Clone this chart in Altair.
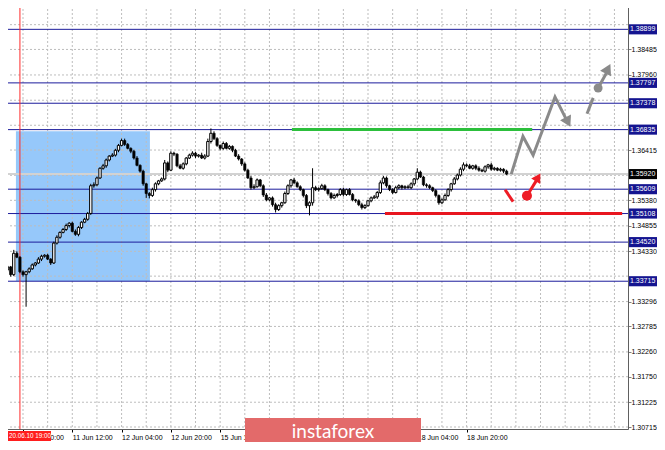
import json
import altair as alt
import pandas as pd

# ---------------- values ----------------
# H1 candles; prices in points (1e-5) above 1.30000
BASE = 1.30000
PT = 1e-5
first_open_pts = 3970
close_pts = [
    4010, 3950, 4010, 3850, 4290, 4210, 3910, 3850, 3910, 3970,
    4050, 4090, 4170, 4230, 4250, 4170, 4090, 4500, 4620, 4720,
    4780, 4860, 4910, 4740, 4680, 4820, 4930, 4990, 5110, 5680,
    5700, 5840, 6040, 6090, 6210, 6290, 6310, 6410, 6510, 6610,
    6530, 6450, 6390, 6250, 6100, 5980, 5720, 5520, 5480, 5600,
    5720, 5780, 5820, 6150, 6000, 6350, 6330, 6090, 6040, 6130,
    6250, 6310, 6350, 6290, 6310, 6250, 6290, 6590, 6760, 6650,
    6510, 6450, 6550, 6450, 6490, 6410, 6290, 6230, 6130, 6000,
    5840, 5640, 5660, 5800, 5680, 5490, 5390, 5430, 5290, 5190,
    5270, 5330, 5520, 5680, 5800, 5740, 5660, 5600, 5480, 5270,
    5330, 5640, 5600, 5620, 5680, 5600, 5520, 5430, 5480, 5500,
    5600, 5500, 5600, 5500, 5390, 5370, 5290, 5230, 5270, 5370,
    5430, 5450, 5540, 5740, 5840, 5680, 5600, 5540, 5640, 5680,
    5640, 5660, 5640, 5720, 5820, 5960, 5860, 5700, 5680, 5640,
    5580, 5480, 5330, 5390, 5480, 5600, 5720, 5820, 5900, 6020,
    6110, 6090, 6040, 6090, 6040, 6000, 5980, 6070, 6110, 6020,
    6040, 6000, 6020, 5980, 5920,
]
upper_wick_pts = [
    30, 40, 30, 20, 70, 40, 20, 30, 20, 30,
    30, 20, 40, 30, 20, 30, 20, 30, 40, 20,
    30, 40, 20, 30, 40, 30, 20, 30, 30, 40,
    50, 30, 20, 40, 30, 20, 40, 30, 30, 40,
    40, 30, 20, 30, 40, 20, 30, 20, 30, 40,
    30, 20, 30, 60, 30, 40, 30, 20, 40, 30,
    20, 30, 40, 30, 20, 50, 40, 60, 100, 40,
    30, 20, 40, 30, 30, 20, 30, 40, 20, 30,
    30, 40, 50, 30, 20, 30, 40, 20, 30, 40,
    30, 20, 40, 30, 20, 40, 30, 30, 20, 30,
    30, 400, 40, 30, 40, 30, 20, 30, 40, 30,
    30, 40, 20, 30, 30, 20, 30, 40, 30, 20,
    30, 40, 30, 50, 40, 30, 20, 30, 40, 30,
    20, 30, 40, 30, 20, 80, 30, 20, 30, 30,
    20, 30, 20, 30, 40, 30, 20, 40, 30, 40,
    50, 30, 40, 20, 30, 40, 30, 30, 20, 40,
    30, 20, 30, 20, 30,
]
lower_wick_pts = [
    30, 30, 40, 40, 30, 20, 30, 40, 660, 30,
    20, 30, 20, 40, 30, 20, 40, 20, 30, 30,
    20, 30, 40, 20, 30, 40, 30, 20, 30, 30,
    40, 30, 20, 30, 40, 30, 20, 30, 40, 20,
    30, 20, 40, 30, 20, 30, 40, 90, 60, 30,
    40, 30, 20, 30, 40, 20, 40, 30, 20, 30,
    30, 20, 30, 40, 30, 20, 30, 20, 40, 30,
    30, 40, 30, 20, 30, 40, 20, 30, 40, 30,
    20, 40, 30, 20, 30, 40, 30, 30, 40, 60,
    30, 40, 20, 30, 40, 30, 20, 30, 40, 50,
    200, 60, 30, 40, 20, 30, 40, 30, 20, 40,
    30, 40, 30, 20, 30, 40, 30, 40, 30, 20,
    30, 20, 40, 30, 30, 40, 30, 30, 20, 30,
    40, 30, 20, 30, 40, 30, 20, 30, 40, 30,
    30, 40, 40, 30, 20, 30, 40, 20, 30, 30,
    40, 30, 20, 30, 40, 30, 20, 30, 40, 30,
    30, 20, 30, 40, 20,
]
assert len(close_pts) == len(upper_wick_pts) == len(lower_wick_pts)

level_prices = [1.38899, 1.37797, 1.37378, 1.36835, 1.35609, 1.35108, 1.34520, 1.33715]
current_price = 1.35920
price_ticks = [1.38995, 1.38485, 1.37960, 1.37440, 1.36925, 1.36415, 1.35895, 1.35380,
               1.34855, 1.34330, 1.33820, 1.33296, 1.32785, 1.32260, 1.31750, 1.31225, 1.30715]
price_ticks_under_boxes = [1.38995, 1.37440, 1.36925, 1.35895, 1.33820]
time_tick_index = [7, 23, 39, 55, 71, 87, 103, 119, 135, 151]
time_tick_labels = ["10 Jun 20:00", "11 Jun 12:00", "12 Jun 04:00", "12 Jun 20:00", "15 Jun 12:00",
                    "16 Jun 04:00", "16 Jun 20:00", "17 Jun 12:00", "18 Jun 04:00", "18 Jun 20:00"]
time_ticks_under_banner = [87, 103, 119]
grid_index = [7, 15, 23, 31, 39, 47, 55, 63, 71, 79, 87, 95, 103, 111, 119, 127, 135,
              143, 151, 159, 167, 175, 183, 191, 199]
marker_index = 6
marker_label = "20.06.10 19:00"

zone_index = [4.7, 48.2]
zone_price = [1.33720, 1.36800]
green_index = [94.3, 172.3]
green_price = 1.36835
red_index = [124.5, 201.5]
red_price = 1.35108

# forecast drawings (candle index, price)
grey_path_index = [165.5, 169.3, 172.6, 179.7, 183.4]
grey_path_price = [1.35920, 1.36695, 1.36309, 1.37509, 1.37040]
grey_dash_index = [190.1, 192.1]
grey_dash_price = [1.37163, 1.37488]
grey_shaft_index = [193.7, 196.4]
grey_shaft_price = [1.37692, 1.38000]
grey_heads = [(183.9, 1.36990, 153), (196.9, 1.38088, 27)]
grey_dot = (193.7, 1.37692)
red_slash_index = [163.5, 166.1]
red_slash_price = [1.35597, 1.35353]
red_shaft_index = [170.6, 173.8]
red_shaft_price = [1.35475, 1.35800]
red_head = (174.2, 1.35853, 31)
red_dot = (170.6, 1.35475)

# ---------------- layout ----------------
W, H = 628, 428
FONT = "Liberation Sans"
xs = alt.Scale(domain=[-0.47, 203.4], nice=False, zero=False)
ys = alt.Scale(domain=[1.30674, 1.39482], nice=False, zero=False)

label_expr = json.dumps(time_tick_labels) + "[round((datum.value - 7) / 16)]"
x_axis = alt.Axis(values=[v for v in time_tick_index if v not in time_ticks_under_banner],
                  labelExpr=label_expr, labelAlign="left",
                  labelFontSize=7, labelFont=FONT, labelColor="#000000", tickSize=3,
                  tickColor="#000000", domainColor="#606060", grid=False, labelPadding=1,
                  labelFlush=False, labelOverlap=False, title=None, orient="bottom")
y_axis = alt.Axis(values=[v for v in price_ticks if v not in price_ticks_under_boxes],
                  format=".5f", orient="right", labelFontSize=7,
                  labelFont=FONT, labelColor="#000000", tickSize=3, tickColor="#808080",
                  domainColor="#606060", grid=False, labelPadding=0, labelOverlap=False,
                  labelFlush=False, title=None)


def X(f):
    return alt.X(f, type="quantitative", scale=xs, axis=x_axis)


def Y(f):
    return alt.Y(f, type="quantitative", scale=ys, axis=y_axis)


# ---------------- tables ----------------
opens = [first_open_pts] + close_pts[:-1]
rows = []
for i, (o, c) in enumerate(zip(opens, close_pts)):
    top, bot = max(o, c), min(o, c)
    rows.append(dict(i=i, x0=i - 0.38, x1=i + 0.38,
                     top=BASE + top * PT, bot=BASE + bot * PT,
                     high=BASE + (top + upper_wick_pts[i]) * PT,
                     low=BASE + (bot - lower_wick_pts[i]) * PT,
                     bull=c >= o))
candles = pd.DataFrame(rows)
bull = candles[candles.bull]
bear = candles[~candles.bull]

zone = alt.Chart(pd.DataFrame({"a": [zone_index[0]], "b": [zone_index[1]],
                               "lo": [zone_price[0]], "hi": [zone_price[1]]})).mark_rect(
    color="#96c8fa").encode(x=X("a"), x2="b", y=Y("lo"), y2="hi")

grid_v = alt.Chart(pd.DataFrame({"i": grid_index})).mark_rule(
    color="#bdbdbd", strokeDash=[2, 2], strokeWidth=1).encode(x=X("i"))
grid_h = alt.Chart(pd.DataFrame({"p": price_ticks})).mark_rule(
    color="#bdbdbd", strokeDash=[2, 2], strokeWidth=1).encode(y=Y("p"))

cur_line = alt.Chart(pd.DataFrame({"p": [current_price]})).mark_rule(
    color="#d2d2d2", strokeWidth=2).encode(y=Y("p"))
lvl_lines = alt.Chart(pd.DataFrame({"p": level_prices})).mark_rule(
    color="#1c1c9c", strokeWidth=1).encode(y=Y("p"))

green = alt.Chart(pd.DataFrame({"a": [green_index[0]], "b": [green_index[1]], "p": [green_price]})).mark_rule(
    color="#2cbf3c", strokeWidth=3).encode(x=X("a"), x2="b", y=Y("p"))
redh = alt.Chart(pd.DataFrame({"a": [red_index[0]], "b": [red_index[1]], "p": [red_price]})).mark_rule(
    color="#e8161f", strokeWidth=3).encode(x=X("a"), x2="b", y=Y("p"))
redv = alt.Chart(pd.DataFrame({"i": [marker_index]})).mark_rule(
    color="#ff2a2a", strokeWidth=1).encode(x=X("i"))

wicks = alt.Chart(candles).mark_rule(color="#000000", strokeWidth=1).encode(
    x=X("i"), y=Y("low"), y2="high")
bull_bodies = alt.Chart(bull).mark_rect(fill="#ffffff", stroke="#000000", strokeWidth=1).encode(
    x=X("x0"), x2="x1", y=Y("bot"), y2="top")
bear_bodies = alt.Chart(bear).mark_rect(fill="#000000", stroke="#000000", strokeWidth=0.6).encode(
    x=X("x0"), x2="x1", y=Y("bot"), y2="top")


def path_df(groups):
    out = []
    for g, (xi, pr) in enumerate(groups):
        for o, (a, b) in enumerate(zip(xi, pr)):
            out.append(dict(g=g, o=o, x=a, p=b))
    return pd.DataFrame(out)


grey_lines = alt.Chart(path_df([(grey_path_index, grey_path_price),
                                (grey_dash_index, grey_dash_price),
                                (grey_shaft_index, grey_shaft_price)])).mark_line(
    color="#8a8a8a", strokeWidth=3).encode(x=X("x"), y=Y("p"), detail="g:N", order="o:Q")
red_lines = alt.Chart(path_df([(red_slash_index, red_slash_price),
                               (red_shaft_index, red_shaft_price)])).mark_line(
    color="#ee1c25", strokeWidth=3).encode(x=X("x"), y=Y("p"), detail="g:N", order="o:Q")

heads = []
for (hx, hp, ang) in grey_heads:
    heads.append(alt.Chart(pd.DataFrame({"x": [hx], "p": [hp]})).mark_point(
        shape="triangle-up", filled=True, size=150, opacity=1, color="#8a8a8a", angle=ang).encode(
        x=X("x"), y=Y("p")))
heads.append(alt.Chart(pd.DataFrame({"x": [red_head[0]], "p": [red_head[1]]})).mark_point(
    shape="triangle-up", filled=True, size=110, opacity=1, color="#ee1c25", angle=red_head[2]).encode(
    x=X("x"), y=Y("p")))
gdot = alt.Chart(pd.DataFrame({"x": [grey_dot[0]], "p": [grey_dot[1]]})).mark_point(
    shape="circle", filled=True, size=80, opacity=1, color="#8a8a8a").encode(x=X("x"), y=Y("p"))
rdot = alt.Chart(pd.DataFrame({"x": [red_dot[0]], "p": [red_dot[1]]})).mark_point(
    shape="circle", filled=True, size=100, opacity=1, color="#ee1c25").encode(x=X("x"), y=Y("p"))

# price boxes on the right
HALF = 0.00104
box_rows = [dict(p=v, lo=v - HALF, hi=v + HALF, label=f"{v:.5f}", kind="level") for v in level_prices]
box_rows.append(dict(p=current_price, lo=current_price - HALF, hi=current_price + HALF,
                     label=f"{current_price:.5f}", kind="current"))
boxes_df = pd.DataFrame(box_rows)
boxes = alt.Chart(boxes_df).mark_rect().encode(
    x=alt.value(W + 1), x2=alt.value(W + 29), y=Y("lo"), y2="hi",
    color=alt.Color("kind:N", scale=alt.Scale(domain=["level", "current"], range=["#141490", "#000000"]),
                    legend=None))
box_text = alt.Chart(boxes_df).mark_text(align="left", baseline="middle", color="#ffffff",
                                         fontSize=7, font=FONT).encode(
    x=alt.value(W + 2), y=Y("p"), text="label:N")

# red time marker label
marker_df = pd.DataFrame({"label": [marker_label]})
marker_box = alt.Chart(marker_df).mark_rect(color="#ff1e1e").encode(
    x=alt.value(0), x2=alt.value(51), y=alt.value(H + 2), y2=alt.value(H + 12))
marker_text = alt.Chart(marker_df).mark_text(align="left", baseline="middle", color="#ffffff",
                                             fontSize=6.3, font=FONT).encode(
    x=alt.value(9), y=alt.value(H + 7), text="label:N")

# watermark banner
banner_df = pd.DataFrame({"label": ["instaforex"]})
banner = alt.Chart(banner_df).mark_rect(color="#e36a6a").encode(
    x=alt.value(245), x2=alt.value(421), y=alt.value(417), y2=alt.value(H + 14))
banner_text = alt.Chart(banner_df).mark_text(align="center", baseline="middle", color="#ffffff",
                                             fontSize=19, font="Lato").encode(
    x=alt.value(333), y=alt.value(431), text="label:N")

chart = alt.layer(
    zone, grid_v, grid_h, cur_line, lvl_lines, green, redh, redv,
    wicks, bull_bodies, bear_bodies,
    grey_lines, *heads, gdot, red_lines, rdot,
    boxes, box_text, marker_box, marker_text, banner, banner_text,
).properties(
    width=W, height=H,
    padding={"left": -8, "top": -7, "right": 29, "bottom": 13},
    autosize=alt.AutoSizeParams(type="none"),
    background="#ffffff",
).configure_view(stroke=None).configure(font=FONT)

chart.save("out.html", embed_options={"renderer": "svg", "actions": False})
